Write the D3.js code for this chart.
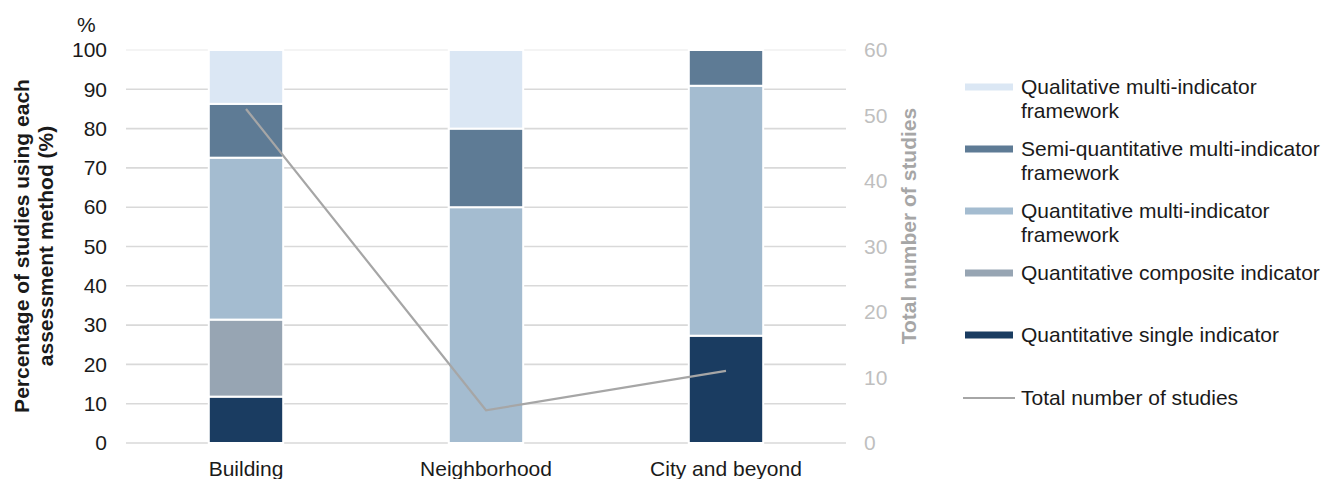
<!DOCTYPE html>
<html>
<head>
<meta charset="utf-8">
<script src="https://cdn.jsdelivr.net/npm/d3@7"></script>
<style>
  html, body { margin: 0; padding: 0; background: #fff; }
  svg { display: block; font-family: "Liberation Sans", Arial, sans-serif; }
</style>
</head>
<body>
<svg id="chart" width="1322" height="479"></svg>
<script>
// Spatial scales of the studies
const categories = ["Building", "Neighborhood", "City and beyond"];

// Share of studies (%) using each assessment method, per scale
const singleIndicator    = [11.8, 0, 27.3];
const compositeIndicator = [19.6, 0, 0];
const quantMultiFramework = [41.2, 60, 63.6];
const semiQuantFramework = [13.7, 20, 9.1];
const qualFramework      = [13.7, 20, 0];

// Total number of studies per scale
const totalStudies = [51, 5, 11];

// Axis ticks
const leftTicks = [0, 10, 20, 30, 40, 50, 60, 70, 80, 90, 100];
const rightTicks = [0, 10, 20, 30, 40, 50, 60];

// Stack order, bottom to top
const seriesNames = [
  "Quantitative single indicator",
  "Quantitative composite indicator",
  "Quantitative multi-indicator framework",
  "Semi-quantitative multi-indicator framework",
  "Qualitative multi-indicator framework"
];
const seriesValues = [singleIndicator, compositeIndicator, quantMultiFramework, semiQuantFramework, qualFramework];
const seriesColors = ["#1a3c61", "#97a5b3", "#a4bcd0", "#5e7b95", "#dbe7f4"];

const svg = d3.select("#chart");
const FONT = 21;

const plot = { left: 126, right: 846, top: 50, bottom: 443 };

const x = d3.scaleBand().domain(categories).range([plot.left, plot.right]).padding(0);
const yL = d3.scaleLinear().domain([0, 100]).range([plot.bottom, plot.top]);
const yR = d3.scaleLinear().domain([0, 60]).range([plot.bottom, plot.top]);

// Gridlines
svg.append("g")
  .selectAll("line")
  .data(leftTicks)
  .join("line")
  .attr("x1", plot.left).attr("x2", plot.right)
  .attr("y1", d => yL(d)).attr("y2", d => yL(d))
  .attr("stroke", d => d === 100 ? "#f1f1f1" : "#d9d9d9")
  .attr("stroke-width", 1.6);

// Stacked bars
const rows = categories.map((c, i) => {
  const r = { category: c };
  seriesNames.forEach((s, k) => r[s] = seriesValues[k][i]);
  return r;
});
const stacked = d3.stack().keys(seriesNames)(rows);
const barW = x.bandwidth() * 0.31;

svg.append("g")
  .selectAll("g")
  .data(stacked)
  .join("g")
  .attr("fill", (d, k) => seriesColors[k])
  .selectAll("rect")
  .data(d => d.filter(p => p[1] - p[0] > 0))
  .join("rect")
  .attr("x", d => x(d.data.category) + x.bandwidth() / 2 - barW / 2)
  .attr("width", barW)
  .attr("y", d => yL(d[1]))
  .attr("height", d => yL(d[0]) - yL(d[1]))
  .attr("stroke", "#fff")
  .attr("stroke-width", 2);

// Total number of studies line (right axis)
const line = d3.line()
  .x((d, i) => x(categories[i]) + x.bandwidth() / 2)
  .y(d => yR(d));
svg.append("path")
  .datum(totalStudies)
  .attr("d", line)
  .attr("fill", "none")
  .attr("stroke", "#a6a6a6")
  .attr("stroke-width", 2.2);

// Left axis
const axL = svg.append("g")
  .attr("transform", `translate(${plot.left},0)`)
  .call(d3.axisLeft(yL).tickValues(leftTicks).tickSize(0).tickPadding(19));
axL.select(".domain").remove();
axL.selectAll("text").attr("font-size", FONT).attr("fill", "#1a1a1a").attr("font-family", "Liberation Sans, Arial, sans-serif");

// Right axis
const axR = svg.append("g")
  .attr("transform", `translate(${plot.right},0)`)
  .call(d3.axisRight(yR).tickValues(rightTicks).tickSize(0).tickPadding(18));
axR.select(".domain").remove();
axR.selectAll("text").attr("font-size", FONT).attr("fill", "#bfbfbf").attr("font-family", "Liberation Sans, Arial, sans-serif");

// Category labels
svg.append("g")
  .selectAll("text")
  .data(categories)
  .join("text")
  .attr("x", d => x(d) + x.bandwidth() / 2)
  .attr("y", 476)
  .attr("text-anchor", "middle")
  .attr("font-size", FONT)
  .attr("fill", "#1a1a1a")
  .text(d => d);

// Unit label above the left axis
svg.append("text")
  .attr("x", 77).attr("y", 32)
  .attr("font-size", FONT)
  .attr("fill", "#1a1a1a")
  .text("%");

// Left axis title
const titleL = svg.append("text")
  .attr("transform", "translate(0,246) rotate(-90)")
  .attr("text-anchor", "middle")
  .attr("font-size", FONT)
  .attr("font-weight", "bold")
  .attr("fill", "#1a1a1a");
titleL.append("tspan").attr("x", 0).attr("y", 29).text("Percentage of studies using each");
titleL.append("tspan").attr("x", 0).attr("y", 53).text("assessment method (%)");

// Right axis title
svg.append("text")
  .attr("transform", "translate(916,226) rotate(-90)")
  .attr("text-anchor", "middle")
  .attr("font-size", FONT)
  .attr("font-weight", "bold")
  .attr("fill", "#a6a6a6")
  .text("Total number of studies");

// Legend
const legendItems = [
  { lines: ["Qualitative multi-indicator", "framework"], color: seriesColors[4], y: 87 },
  { lines: ["Semi-quantitative multi-indicator", "framework"], color: seriesColors[3], y: 149 },
  { lines: ["Quantitative multi-indicator", "framework"], color: seriesColors[2], y: 211 },
  { lines: ["Quantitative composite indicator"], color: seriesColors[1], y: 273 },
  { lines: ["Quantitative single indicator"], color: seriesColors[0], y: 335 }
];
const lg = svg.append("g");
legendItems.forEach(it => {
  lg.append("rect")
    .attr("x", 965).attr("y", it.y - 3.5)
    .attr("width", 48).attr("height", 7)
    .attr("fill", it.color);
  const t = lg.append("text")
    .attr("font-size", FONT)
    .attr("fill", "#1a1a1a");
  it.lines.forEach((l, j) => {
    t.append("tspan").attr("x", 1021).attr("y", it.y + 7 + j * 24).text(l);
  });
});
lg.append("line")
  .attr("x1", 963).attr("x2", 1015)
  .attr("y1", 398).attr("y2", 398)
  .attr("stroke", "#a6a6a6").attr("stroke-width", 2.2);
lg.append("text")
  .attr("x", 1021).attr("y", 405)
  .attr("font-size", FONT)
  .attr("fill", "#1a1a1a")
  .text("Total number of studies");
</script>
</body>
</html>
